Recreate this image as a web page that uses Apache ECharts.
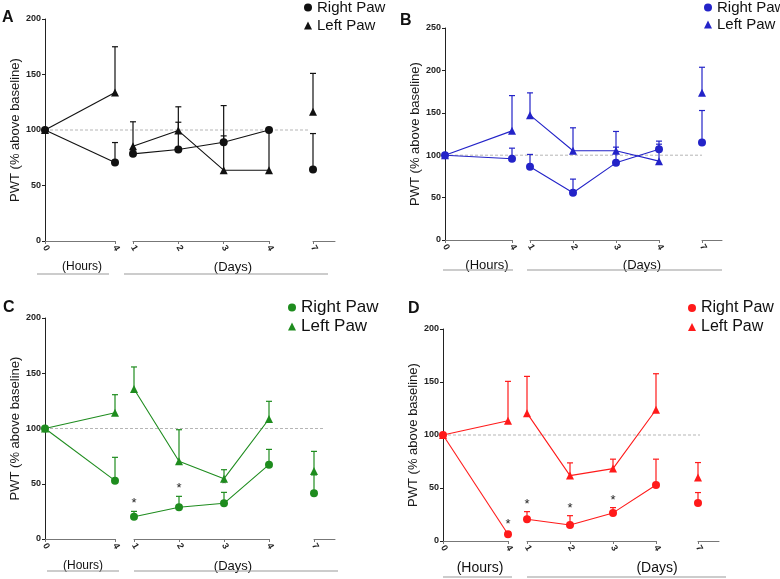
<!DOCTYPE html>
<html>
<head>
<meta charset="utf-8">
<script src="https://cdn.jsdelivr.net/npm/echarts@6/dist/echarts.min.js"></script>
<style>html,body{margin:0;padding:0;background:#fff}#c{width:780px;height:579px}</style>
</head>
<body>
<div id="c"></div>
<script>
// ---------- DATA ----------
const hourX = [0, 4];
const dayX = [1, 2, 3, 4];
const weekX = [7];
const hourTicks = ['0', '4'];
const dayTicks = ['1', '2', '3', '4'];
const weekTicks = ['7'];
const seriesNames = ['Right Paw', 'Left Paw'];
const panelLetters = ['A', 'B', 'C', 'D'];
const periodLabels = ['(Hours)', '(Days)'];
const yAxisName = 'PWT (% above baseline)';
const baseline = 100;
// order of values: 0h, 4h, day1, day2, day3, day4, day7
const rightA = [100, 70.7, 78.5, 82.4, 89, 100, 64.4];
const rightAUpper = [100, 88.7, 81, 107, 122, 100, 96.8];
const leftA = [100, 133.8, 85.4, 99.5, 63.8, 63.8, 116.4];
const leftAUpper = [100, 175, 107.4, 120.9, 94.7, 100, 151];

const rightB = [100, 95.8, 86.3, 55.7, 91, 107, 115];
const rightBUpper = [100, 108.3, 100.9, 71.8, 109.5, 116.6, 152.7];
const leftB = [100, 128.7, 147.2, 105.2, 105.2, 93, 173.5];
const leftBUpper = [100, 170.3, 173.5, 132.3, 128, 113, 203.7];

const rightC = [100, 52.8, 20.2, 28.7, 32.3, 67.3, 41.3];
const rightCUpper = [100, 73.9, 25, 38.6, 42.2, 81.1, 58];
const leftC = [100, 114.3, 135.7, 70.3, 54.6, 108.6, 61.5];
const leftCUpper = [100, 130.6, 155.7, 98.9, 62.7, 124.6, 79.3];
const sigC = [0, 0, 1, 1, 1, 0, 0];

const rightD = [100, 6.3, 20.5, 15.1, 26.5, 52.9, 35.9];
const rightDUpper = [100, 8.5, 27.7, 23.9, 31.5, 77.2, 45.7];
const leftD = [100, 113.4, 120.6, 61.7, 68.3, 123.8, 59.8];
const leftDUpper = [100, 150.6, 155.3, 73.7, 77.2, 157.8, 74];
const sigD = [0, 1, 1, 1, 1, 0, 0];

// ---------- LAYOUT ----------
const FONT = '"Liberation Sans", Arial, sans-serif';
const panels = [
  {color:'#111111', right:rightA, rightU:rightAUpper, left:leftA, leftU:leftAUpper, sig:null, yMax:200,
   yx:45, top:19, bottom:241, h4:115, d1:133, d4:269, d7:313, end:335, dashEnd:310,
   leg:{x:304, y:0, fs:15, gap:3}, lab:{x:2, y:10}, nameGap:17,
   hours:{cx:82, ty:267, ly:274, x1:37, x2:109, fs:12}, days:{cx:233, ty:267, ly:274, x1:124, x2:328, fs:13}},
  {color:'#2323c8', right:rightB, rightU:rightBUpper, left:leftB, leftU:leftBUpper, sig:null, yMax:250,
   yx:445, top:28, bottom:240, h4:512, d1:530, d4:659, d7:702, end:722, dashEnd:702,
   leg:{x:704, y:0, fs:15, gap:2}, lab:{x:400, y:13}, nameGap:17,
   hours:{cx:487, ty:265, ly:270, x1:443, x2:513, fs:13}, days:{cx:642, ty:265, ly:270, x1:527, x2:722, fs:13}},
  {color:'#1e8c1e', right:rightC, rightU:rightCUpper, left:leftC, leftU:leftCUpper, sig:sigC, yMax:200,
   yx:45, top:318, bottom:539, h4:115, d1:134, d4:269, d7:314, end:335, dashEnd:325,
   leg:{x:288, y:299, fs:17, gap:2}, lab:{x:3, y:300}, nameGap:17,
   hours:{cx:83, ty:566, ly:571, x1:47, x2:119, fs:12}, days:{cx:233, ty:566, ly:571, x1:134, x2:338, fs:13}},
  {color:'#ff1a1a', right:rightD, rightU:rightDUpper, left:leftD, leftU:leftDUpper, sig:sigD, yMax:200,
   yx:443, top:329, bottom:541, h4:508, d1:527, d4:656, d7:698, end:719, dashEnd:700,
   leg:{x:688, y:300, fs:16, gap:3}, lab:{x:408, y:301}, nameGap:17,
   hours:{cx:480, ty:568, ly:577, x1:443, x2:512, fs:14}, days:{cx:657, ty:568, ly:577, x1:527, x2:726, fs:14}}
];

const segs = [
  {xs:hourX, start:0, ticks:hourTicks},
  {xs:dayX, start:2, ticks:dayTicks},
  {xs:weekX, start:6, ticks:weekTicks}
];

const grid = [], xAxis = [], yAxis = [], series = [], legend = [], graphic = [];

panels.forEach((p, pi) => {
  const base = pi * 4;
  const rects = [
    [p.yx, p.dashEnd],
    [p.yx, p.h4],
    [p.d1, p.d4],
    [p.d7, p.end]
  ];
  rects.forEach((r, k) => {
    grid.push({left: r[0], width: r[1] - r[0], top: p.top, height: p.bottom - p.top, containLabel:false});
    yAxis.push({
      type:'value', gridIndex: base + k, min:0, max:p.yMax, interval:50, show: k === 0,
      name: k === 0 ? yAxisName : '', nameLocation:'middle', nameGap:p.nameGap, nameRotate:90,
      nameTextStyle:{fontFamily:FONT, fontSize:13, color:'#1a1a1a'},
      axisLine:{show:true, lineStyle:{color:'#222', width:1}},
      axisTick:{show:true, length:3, lineStyle:{color:'#222'}},
      axisLabel:{fontFamily:FONT, fontSize:9, fontWeight:'bold', color:'#222', margin:4},
      splitLine:{show:false}
    });
    if (k === 0) {
      xAxis.push({type:'value', gridIndex: base, min:0, max:1, show:false});
    } else {
      const s = segs[k - 1];
      const ax = {
        type:'value', gridIndex: base + k,
        axisLine:{show:true, onZero:false, lineStyle:{color:'#777', width:1}},
        axisTick:{show:true, length:3, lineStyle:{color:'#777'}},
        axisLabel:{fontFamily:FONT, fontSize:9, fontWeight:'bold', color:'#222', rotate:-60, margin:5,
                   formatter: v => s.ticks[s.xs.indexOf(v)] !== undefined ? s.ticks[s.xs.indexOf(v)] : ''},
        splitLine:{show:false}
      };
      if (k === 1) { ax.min = 0; ax.max = 4; ax.interval = 4; }
      if (k === 2) { ax.min = 1; ax.max = 4; ax.interval = 1; }
      if (k === 3) {
        ax.min = 7; ax.max = 7.5;
        ax.axisTick.customValues = [7];
        ax.axisLabel.customValues = [7];
      }
      xAxis.push(ax);
    }
  });

  // baseline dashed line
  series.push({
    type:'line', name:'baseline' + pi, xAxisIndex: base, yAxisIndex: base,
    data:[[0, baseline], [1, baseline]], symbol:'none', silent:true, z:1,
    lineStyle:{type:[3, 2], color:'#b5b5b5', width:1}
  });

  const names = seriesNames.map(n => n + '|' + pi);
  const defs = [
    {name: names[0], vals: p.right, up: p.rightU, sym:'circle', size:8, sig: p.sig},
    {name: names[1], vals: p.left, up: p.leftU, sym:'triangle', size:8, sig: null}
  ];
  segs.forEach((s, k) => {
    const ai = base + k + 1;
    defs.forEach(d => {
      const pts = s.xs.map((x, i) => [x, d.vals[s.start + i]]);
      const errs = s.xs.map((x, i) => [x, d.vals[s.start + i], d.up[s.start + i], d.sig ? d.sig[s.start + i] : 0]);
      series.push({
        type:'line', name: d.name, xAxisIndex: ai, yAxisIndex: ai, z:3, silent:true,
        data: pts, symbol: d.sym, symbolSize: d.size, showAllSymbol:true, color:p.color,
        itemStyle:{color:p.color}, lineStyle:{color:p.color, width:1.1}
      });
      series.push({
        type:'custom', name: d.name, xAxisIndex: ai, yAxisIndex: ai, z:2, silent:true, color:p.color,
        itemStyle:{color:p.color},
        data: errs, encode:{x:0, y:[1,2]},
        renderItem: (params, api) => {
          const x = api.value(0), m = api.value(1), u = api.value(2), sg = api.value(3);
          const p0 = api.coord([x, m]), p1 = api.coord([x, u]);
          const ch = [];
          if (u > m) {
            ch.push({type:'line', shape:{x1:p0[0], y1:p0[1], x2:p1[0], y2:p1[1]}, style:{stroke:p.color, lineWidth:1.2}});
            ch.push({type:'line', shape:{x1:p1[0]-3, y1:p1[1], x2:p1[0]+3, y2:p1[1]}, style:{stroke:p.color, lineWidth:1.2}});
          }
          if (sg) {
            ch.push({type:'text', x:p1[0], y:p1[1] - 1, style:{text:'*', fontFamily:FONT, fontSize:13, fill:'#222', align:'center', verticalAlign:'bottom'}});
          }
          return {type:'group', children: ch};
        }
      });
    });
  });

  legend.push({
    orient:'vertical', left:p.leg.x, top:p.leg.y, itemWidth:8, itemHeight:8, itemGap:p.leg.gap,
    selectedMode:false, padding:0,
    textStyle:{fontFamily:FONT, fontSize:p.leg.fs, color:'#111'},
    formatter: n => n.split('|')[0],
    data:[{name:names[0], icon:'circle', itemStyle:{color:p.color}}, {name:names[1], icon:'triangle', itemStyle:{color:p.color}}]
  });

  graphic.push({type:'text', x:p.lab.x, y:p.lab.y, style:{text:panelLetters[pi], fontFamily:FONT, fontSize:16, fontWeight:'bold', fill:'#111'}});
  [p.hours, p.days].forEach((a, j) => {
    graphic.push({type:'text', x:a.cx, y:a.ty, style:{text:periodLabels[j], fontFamily:FONT, fontSize:a.fs, fill:'#111', align:'center', verticalAlign:'middle'}});
    graphic.push({type:'line', shape:{x1:a.x1, y1:a.ly, x2:a.x2, y2:a.ly}, style:{stroke:'#999', lineWidth:1}});
  });
});

const chart = echarts.init(document.getElementById('c'), null, {renderer:'canvas'});
chart.setOption({animation:false, backgroundColor:'#fff', grid, xAxis, yAxis, series, legend, graphic});
</script>
</body>
</html>
